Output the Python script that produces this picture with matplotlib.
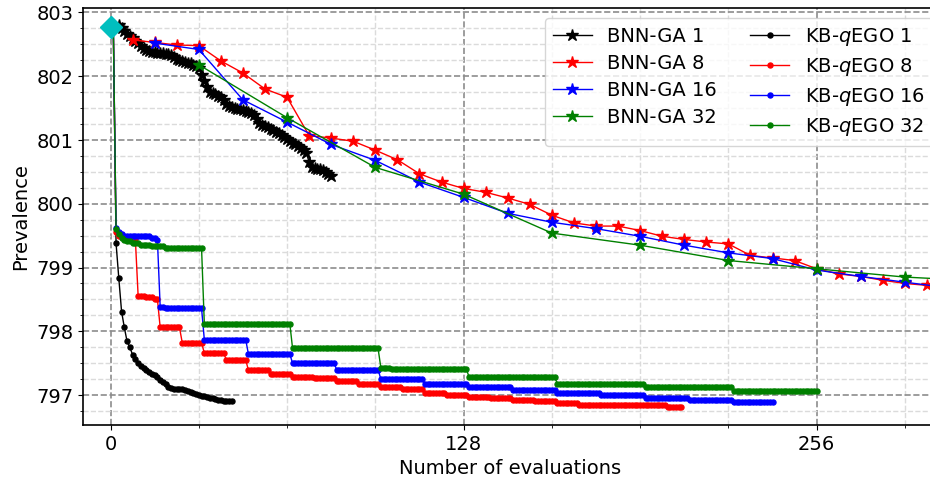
import numpy as np
import matplotlib.pyplot as plt
from matplotlib.ticker import MultipleLocator

# initial design best
x_init, y_init = 0, 802.78

# BNN-GA, batch size 1 (one value per evaluation, x = 3..80)
bnn1_x0 = 3
bnn1_y = [802.80, 802.76, 802.71, 802.66, 802.63, 802.60, 802.56, 802.52, 802.47, 802.44,
          802.41, 802.39, 802.38, 802.38, 802.37, 802.37, 802.36, 802.35, 802.35, 802.33,
          802.30, 802.27, 802.25, 802.24, 802.22, 802.21, 802.20, 802.18, 802.16, 802.13,
          802.02, 801.92, 801.83, 801.76, 801.74, 801.72, 801.69, 801.67, 801.63, 801.56,
          801.53, 801.52, 801.50, 801.49, 801.48, 801.47, 801.45, 801.44, 801.42, 801.39,
          801.33, 801.27, 801.24, 801.22, 801.20, 801.18, 801.15, 801.13, 801.11, 801.08,
          801.05, 801.02, 800.98, 800.95, 800.93, 800.90, 800.87, 800.84, 800.80, 800.65,
          800.58, 800.56, 800.55, 800.55, 800.53, 800.50, 800.47, 800.43]

# BNN-GA, larger batches (one value per batch)
bnn8_y = [802.57, 802.53, 802.49, 802.48, 802.24, 802.05, 801.80, 801.67, 801.07, 801.03,
          800.98, 800.84, 800.69, 800.47, 800.34, 800.24, 800.18, 800.09, 799.99, 799.82,
          799.70, 799.65, 799.65, 799.58, 799.49, 799.44, 799.40, 799.37, 799.19, 799.15,
          799.11, 798.98, 798.90, 798.86, 798.80, 798.75, 798.72, 798.70]
bnn16_y = [802.52, 802.42, 801.63, 801.28, 800.93, 800.68, 800.34, 800.10, 799.85, 799.71,
           799.61, 799.49, 799.35, 799.23, 799.14, 798.96, 798.86, 798.77, 798.68]
bnn32_y = [802.18, 801.35, 800.57, 800.15, 799.54, 799.35, 799.11, 798.98, 798.85, 798.78]

# KB-qEGO, batch size 1 (x = 1..44)
kb1_y = [802.78, 799.38, 798.83, 798.31, 798.06, 797.84, 797.75, 797.63, 797.56, 797.50,
         797.46, 797.42, 797.39, 797.36, 797.33, 797.31, 797.28, 797.24, 797.21, 797.17,
         797.13, 797.11, 797.10, 797.10, 797.09, 797.09, 797.08, 797.06, 797.04, 797.03,
         797.02, 797.00, 796.99, 796.98, 796.97, 796.96, 796.95, 796.94, 796.93, 796.92,
         796.91, 796.91, 796.90, 796.90]

# KB-qEGO, larger batches: best-so-far stored as (level, number of evaluations)
kb8_levels = [802.78, 799.56, 799.50, 799.48, 799.46, 799.44, 798.56, 798.54, 798.50,
              798.06, 797.82, 797.66, 797.55, 797.39, 797.33, 797.29, 797.26, 797.22,
              797.17, 797.13, 797.09, 797.03, 797.00, 796.97, 796.95, 796.92, 796.90,
              796.87, 796.85, 796.84, 796.82]
kb8_counts = [1, 1, 1, 1, 1, 4, 3, 3, 2,
              8, 8, 8, 8, 8, 8, 8, 8, 8,
              8, 8, 8, 8, 8, 8, 8, 8, 8,
              8, 24, 8, 6]

kb16_levels = [802.78, 799.62, 799.56, 799.52, 799.50, 799.49, 799.47, 799.43,
               798.38, 798.36, 797.87, 797.64, 797.50, 797.40, 797.25, 797.17,
               797.13, 797.08, 797.03, 797.00, 796.96, 796.92, 796.89]
kb16_counts = [1, 1, 1, 1, 5, 5, 2, 1,
               2, 14, 16, 16, 16, 16, 16, 16,
               16, 16, 16, 16, 16, 16, 15]

kb32_levels = [802.78, 799.61, 799.53, 799.47, 799.43, 799.41, 799.38, 799.36, 799.33,
               799.31, 799.30, 798.12, 797.73, 797.43, 797.41, 797.28, 797.18, 797.12,
               797.06]
kb32_counts = [1, 1, 1, 1, 1, 2, 3, 4, 5,
               6, 8, 32, 32, 4, 28, 32, 32, 32,
               31]

plt.rcParams['font.size'] = 14
plt.rcParams['axes.linewidth'] = 1.2

fig = plt.figure(figsize=(9.3, 4.86), dpi=100)
ax = fig.add_axes([0.0892, 0.1255, 0.9194, 0.858])

star = dict(marker='*', markersize=9, linewidth=1)
ax.plot(np.arange(len(bnn1_y)) + bnn1_x0, bnn1_y, color='k', label='BNN-GA 1', **star)
ax.plot(8 * np.arange(1, len(bnn8_y) + 1), bnn8_y, color='r', label='BNN-GA 8', **star)
ax.plot(16 * np.arange(1, len(bnn16_y) + 1), bnn16_y, color='b', label='BNN-GA 16', **star)
ax.plot(32 * np.arange(1, len(bnn32_y) + 1), bnn32_y, color='g', label='BNN-GA 32', **star)

dot = dict(marker='o', markersize=3.6, linewidth=1)
ax.plot(np.arange(1, len(kb1_y) + 1), kb1_y, color='k', label='KB-$q$EGO 1', **dot)
for levels, counts, c, q in [(kb8_levels, kb8_counts, 'r', 8),
                             (kb16_levels, kb16_counts, 'b', 16),
                             (kb32_levels, kb32_counts, 'g', 32)]:
    y = np.repeat(levels, counts)
    ax.plot(np.arange(1, len(y) + 1), y, color=c, label=f'KB-$q$EGO {q}', **dot)

ax.plot(x_init, y_init, marker='D', markersize=11, color='c', linestyle='none', zorder=10)

ax.set_xlim(-10, 300)
ax.set_ylim(796.53, 803.07)
ax.xaxis.set_major_locator(MultipleLocator(128))
ax.xaxis.set_minor_locator(MultipleLocator(32))
ax.yaxis.set_major_locator(MultipleLocator(1))
ax.yaxis.set_minor_locator(MultipleLocator(0.25))
ax.grid(which='major', color='0.55', linestyle='--', linewidth=1.2)
ax.grid(which='minor', color='0.86', linestyle='--', linewidth=1)
ax.set_axisbelow(True)

ax.set_xlabel('Number of evaluations')
ax.set_ylabel('Prevalence')
ax.legend(ncol=2, loc='upper right', bbox_to_anchor=(1.005, 1.0),
          labelspacing=0.42, columnspacing=1.7)

fig.savefig('out.png', dpi=100)
